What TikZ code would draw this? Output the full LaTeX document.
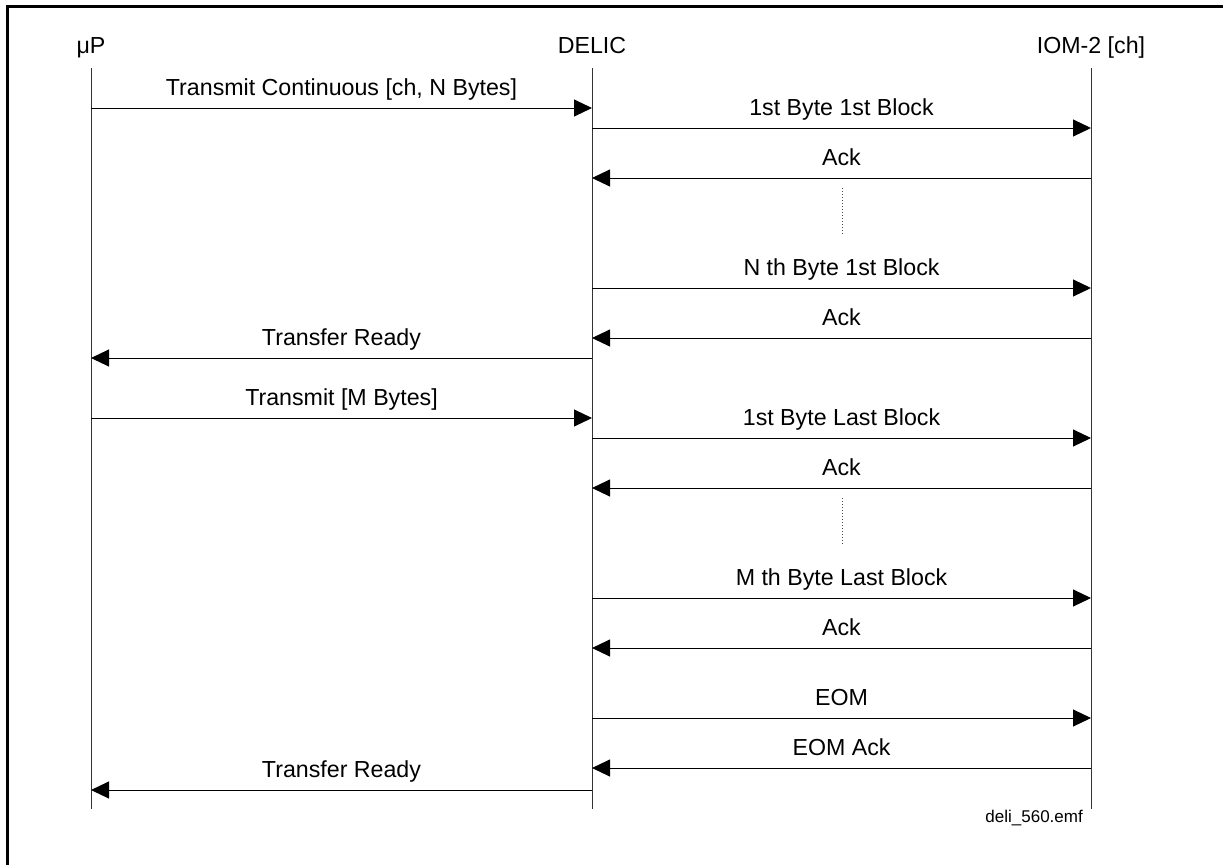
\documentclass[tikz,border=0pt]{standalone}
\usepackage{fontspec}
\setmainfont{Liberation Sans}
\usepackage{tikz}
\usetikzlibrary{arrows.meta,calc}

\begin{document}
\begin{tikzpicture}[
    x=1pt, y=-1pt,
    head/.style={anchor=base, inner sep=0pt, font=\fontsize{23.2}{28}\selectfont},
    lbl/.style={anchor=base, inner sep=0pt, yshift=13pt, font=\fontsize{23.2}{28}\selectfont},
    life/.style={line width=1pt, black!80},
    msg/.style={-{Triangle[length=18pt, width=17pt]}, line width=1pt},
    dots/.style={line width=0.8pt, black!70, dash pattern=on 1pt off 2pt}
]
    \useasboundingbox (0,0) rectangle (1223,865);

    % frame (only top and left edges show)
    \draw[line width=3pt] (7,865) -- (7,6) -- (1223,6);

    % heads
    \node[head] (up) at (91,53) {μP};
    \node[head] (delic) at (592,53) {DELIC};
    \node[head] (iom) at (1091,53) {IOM-2 [ch]};

    % lifelines
    \coordinate (up-top) at (91,68);
    \coordinate (up-bot) at (91,809);
    \coordinate (delic-top) at (592,68);
    \coordinate (delic-bot) at (592,809);
    \coordinate (iom-top) at (1091,68);
    \coordinate (iom-bot) at (1091,809);
    \draw[life] (up-top) -- (up-bot);
    \draw[life] (delic-top) -- (delic-bot);
    \draw[life] (iom-top) -- (iom-bot);

    % messages
    \foreach \y/\a/\b/\txt [count=\i] in {
        108/up/delic/{Transmit Continuous [ch, N Bytes]},
        128/delic/iom/{1st Byte 1st Block},
        178/iom/delic/{Ack},
        288/delic/iom/{N th Byte 1st Block},
        338/iom/delic/{Ack},
        358/delic/up/{Transfer Ready},
        418/up/delic/{Transmit [M Bytes]},
        438/delic/iom/{1st Byte Last Block},
        488/iom/delic/{Ack},
        598/delic/iom/{M th Byte Last Block},
        648/iom/delic/{Ack},
        718/delic/iom/{EOM},
        768/iom/delic/{EOM Ack},
        790/delic/up/{Transfer Ready}}
        \draw[msg] (\a-top |- 0,\y) -- node[lbl] (m\i) {\txt} (\b-top |- 0,\y);

    % skipped bytes
    \coordinate (gap1a) at (842,188);
    \coordinate (gap1b) at (842,235);
    \coordinate (gap2a) at (842,498);
    \coordinate (gap2b) at (842,545);
    \draw[dots] (gap1a) -- (gap1b);
    \draw[dots] (gap2a) -- (gap2b);

    \node[anchor=base east, inner sep=0pt, font=\fontsize{17}{20}\selectfont] (file) at (1083,822) {deli\_560.emf};
\end{tikzpicture}
\end{document}
